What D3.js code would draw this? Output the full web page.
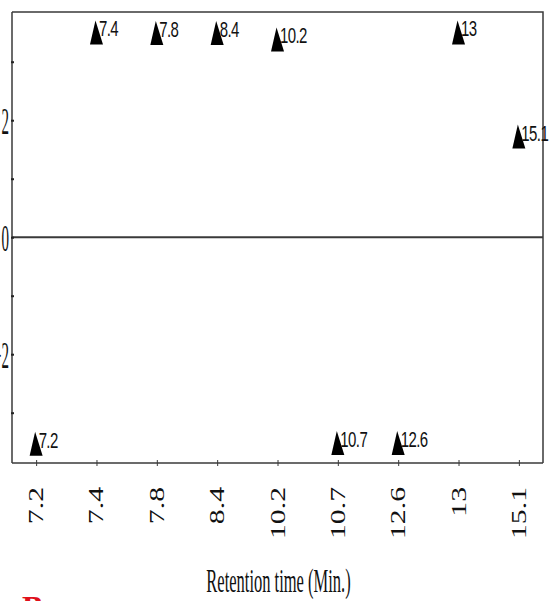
<!DOCTYPE html>
<html>
<head>
<meta charset="utf-8">
<script src="https://cdn.jsdelivr.net/npm/d3@7/dist/d3.min.js"></script>
<style>
  html, body { margin: 0; padding: 0; background: #fff; }
  svg { display: block; }
</style>
</head>
<body>
<script>
// Retention-time peaks (min) and their signed loading on the vertical axis
const categories = ["7.2", "7.4", "7.8", "8.4", "10.2", "10.7", "12.6", "13", "15.1"];
const loadings   = [-3.53, 3.50, 3.49, 3.49, 3.38, -3.52, -3.52, 3.50, 1.72];
const pointLabels = ["7.2", "7.4", "7.8", "8.4", "10.2", "10.7", "12.6", "13", "15.1"];
const yTickValues = [-3, -2, -1, 0, 1, 2, 3];
const yLabelValues = [-2, 0, 2];
const xTitle = "Retention time (Min.)";
const panelLetter = "B";

const W = 549, H = 601;
const plotLeft = 12, plotRight = 543, plotTop = 12, plotBottom = 463;

const svg = d3.select("body").append("svg")
  .attr("width", W).attr("height", H);

const x = d3.scalePoint().domain(categories).range([plotLeft, plotRight]).padding(0.4);
const y = d3.scaleLinear().domain([-3.86, 3.85]).range([plotBottom, plotTop]);

const axisColor = "#3a3a3a";

// frame: top and right edges
svg.append("path")
  .attr("d", `M${plotLeft},${plotTop}H${plotRight}V${plotBottom}`)
  .attr("fill", "none").attr("stroke", axisColor).attr("stroke-width", 1.5);

// zero line
svg.append("line")
  .attr("x1", plotLeft).attr("x2", plotRight)
  .attr("y1", y(0)).attr("y2", y(0))
  .attr("stroke", axisColor).attr("stroke-width", 2);

// bottom axis
const gx = svg.append("g")
  .attr("transform", `translate(0,${plotBottom})`)
  .call(d3.axisBottom(x).tickSize(3).tickPadding(0));
gx.select(".domain").attr("d", `M${plotLeft},0H${plotRight}`)
  .attr("stroke", axisColor).attr("stroke-width", 1.5);
gx.selectAll(".tick line").attr("y1", -3).attr("y2", 3).attr("stroke", axisColor);
gx.selectAll(".tick text").remove();
gx.selectAll(".tick").append("text")
  .attr("transform", "translate(6.5,24) rotate(-90) scale(1.45,1)")
  .attr("text-anchor", "end")
  .attr("fill", "#111")
  .attr("font-family", "'Liberation Serif', 'Times New Roman', serif")
  .attr("font-size", 20.5)
  .text(d => d);

// left axis
const gy = svg.append("g")
  .attr("transform", `translate(${plotLeft},0)`)
  .call(d3.axisLeft(y).tickValues(yTickValues).tickSize(0).tickFormat(""));
gy.select(".domain").attr("d", `M0,${plotTop}V${plotBottom}`)
  .attr("stroke", axisColor).attr("stroke-width", 1.5);
gy.selectAll(".tick line").attr("x1", -1).attr("x2", 2)
  .attr("stroke", "#222").attr("stroke-width", 2);
gy.selectAll(".tick").filter(d => yLabelValues.includes(d))
  .append("text")
  .attr("transform", "translate(-3,13) scale(1,2.5)")
  .attr("text-anchor", "end")
  .attr("fill", "#111")
  .attr("font-family", "'Liberation Serif', 'Times New Roman', serif")
  .attr("font-size", 15)
  .text(d => d < 0 ? "\u2212" + Math.abs(d) : d);

// tall triangle marker
const tallTriangle = {
  draw(ctx) {
    const hw = 6.5, hh = 12;
    ctx.moveTo(-1, -hh);
    ctx.lineTo(hw, hh);
    ctx.lineTo(-hw, hh);
    ctx.closePath();
  }
};

const pts = categories.map((c, i) => ({ c, v: loadings[i], label: pointLabels[i] }));

const gp = svg.append("g");
gp.selectAll("path.marker").data(pts).join("path")
  .attr("class", "marker")
  .attr("transform", d => `translate(${x(d.c)},${y(d.v)})`)
  .attr("d", d3.symbol().type(tallTriangle))
  .attr("fill", "#000");

gp.selectAll("text.plabel").data(pts).join("text")
  .attr("class", "plabel")
  .attr("transform", d => `translate(${x(d.c) + 2.5},${y(d.v) + 4}) scale(1,1.5)`)
  .attr("fill", "#111")
  .attr("font-family", "'Liberation Sans', Arial, sans-serif")
  .attr("font-size", 15)
  .attr("letter-spacing", -0.6)
  .text(d => d.label);

// axis title
svg.append("text")
  .attr("transform", `translate(${(plotLeft + plotRight) / 2 + 1},592) scale(1,2.1)`)
  .attr("text-anchor", "middle")
  .attr("fill", "#111")
  .attr("font-family", "'Liberation Serif', 'Times New Roman', serif")
  .attr("font-size", 16.5)
  .text(xTitle);

// panel letter
svg.append("text")
  .attr("x", 22).attr("y", 618)
  .attr("fill", "#e0101c")
  .attr("font-family", "'Liberation Serif', 'Times New Roman', serif")
  .attr("font-weight", "bold")
  .attr("font-size", 32)
  .text(panelLetter);
</script>
</body>
</html>
